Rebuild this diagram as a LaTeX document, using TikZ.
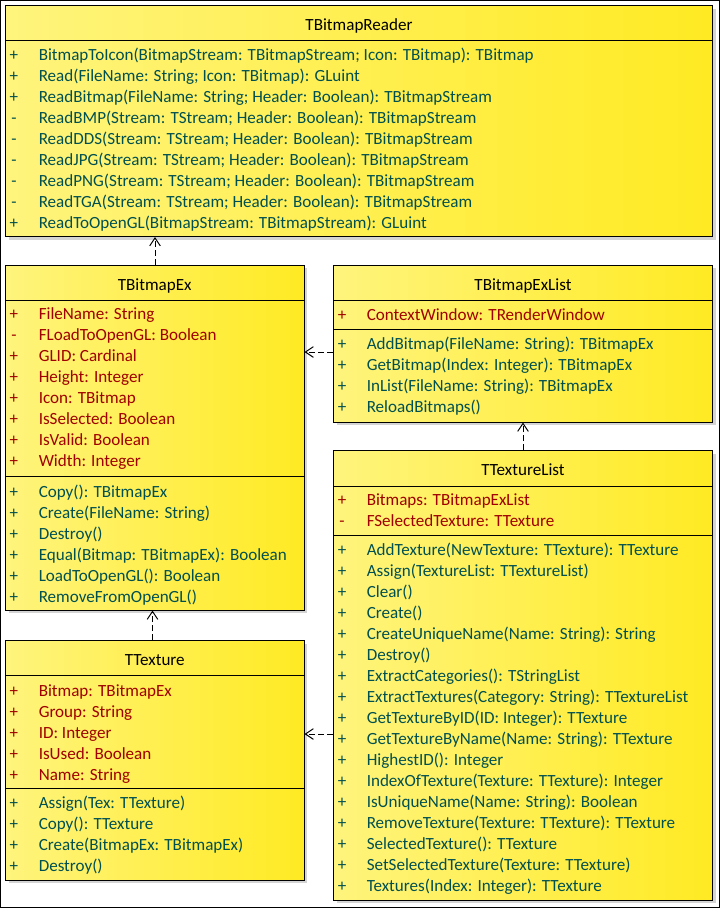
\documentclass[tikz,border=0pt]{standalone}
\usepackage{fontspec}
\setmainfont{Carlito}
\usetikzlibrary{fit,arrows.meta}
\definecolor{attrc}{RGB}{160,0,0}
\definecolor{methc}{RGB}{0,80,80}
\definecolor{yl}{RGB}{255,244,125}
\definecolor{yr}{RGB}{255,234,35}
\definecolor{shd}{RGB}{212,212,212}
\tikzset{
  umlbox/.style={draw=black, line width=0.75pt, left color=yl, right color=yr, inner sep=0pt},
  rowtxt/.style={anchor=mid west, inner sep=0pt, font=\fontsize{12.8pt}{15pt}\selectfont},
  sgn/.style={anchor=mid, inner sep=0pt, font=\fontsize{12.8pt}{15pt}\selectfont},
  ttl/.style={anchor=mid, inner sep=0pt, font=\fontsize{12.8pt}{15pt}\selectfont, text=black},
  attr/.style={text=attrc},
  meth/.style={text=methc},
  sepline/.style={line width=0.75pt},
  dep/.style={line width=0.75pt, dash pattern=on 4.5pt off 2.25pt, -{Straight Barb[length=6pt,width=8pt]}}
}
\newcommand\umlrows[5]{%
  \foreach \sg/\tx [count=\i] in {#5} {
    \node[sgn,#4] (#1s\i) at ({#2+8.5},{#3+3.5+21*(\i-1)}) {\sg};
    \node[rowtxt,#4] (#1t\i) at ({#2+33},{#3+3.5+21*(\i-1)}) {\tx};
  }}
\newcommand\umlframe[5]{% name, left, top, right, bottom
  \fill[shd] ({#2+3},{#3+3}) rectangle ({#4+3},{#5+3});
  \coordinate (#1-nw) at (#2,#3);
  \coordinate (#1-se) at (#4,#5);
  \node[umlbox, fit=(#1-nw) (#1-se)] (#1) {};
}
\begin{document}
\begin{tikzpicture}[x=0.75pt,y=-0.75pt]
\useasboundingbox (0,0) rectangle (720,908);
\draw[line width=0.75pt] (0.5,0.5) rectangle (719.5,907.5);

% TBitmapReader
\umlframe{reader}{5.5}{5.5}{712.5}{236.5}
\node[ttl] (reader-title) at (359,27) {TBitmapReader};
\coordinate (reader-c1) at (0,40.5);
\draw[sepline] (reader.west |- reader-c1) -- (reader.east |- reader-c1);
\umlrows{reader-m}{5.5}{54}{meth}{
  +/{BitmapToIcon(BitmapStream: TBitmapStream; Icon: TBitmap): TBitmap},
  +/{Read(FileName: String; Icon: TBitmap): GLuint},
  +/{ReadBitmap(FileName: String; Header: Boolean): TBitmapStream},
  -/{ReadBMP(Stream: TStream; Header: Boolean): TBitmapStream},
  -/{ReadDDS(Stream: TStream; Header: Boolean): TBitmapStream},
  -/{ReadJPG(Stream: TStream; Header: Boolean): TBitmapStream},
  -/{ReadPNG(Stream: TStream; Header: Boolean): TBitmapStream},
  -/{ReadTGA(Stream: TStream; Header: Boolean): TBitmapStream},
  +/{ReadToOpenGL(BitmapStream: TBitmapStream): GLuint}}

% TBitmapEx
\umlframe{bex}{5.5}{265}{304}{610}
\node[ttl] (bex-title) at (154.75,287) {TBitmapEx};
\coordinate (bex-c1) at (0,300.5);
\coordinate (bex-c2) at (0,476);
\draw[sepline] (bex.west |- bex-c1) -- (bex.east |- bex-c1);
\draw[sepline] (bex.west |- bex-c2) -- (bex.east |- bex-c2);
\umlrows{bex-a}{5.5}{313}{attr}{
  +/{FileName: String},
  -/{FLoadToOpenGL: Boolean},
  +/{GLID: Cardinal},
  +/{Height: Integer},
  +/{Icon: TBitmap},
  +/{IsSelected: Boolean},
  +/{IsValid: Boolean},
  +/{Width: Integer}}
\umlrows{bex-m}{5.5}{491}{meth}{
  +/{Copy(): TBitmapEx},
  +/{Create(FileName: String)},
  +/{Destroy()},
  +/{Equal(Bitmap: TBitmapEx): Boolean},
  +/{LoadToOpenGL(): Boolean},
  +/{RemoveFromOpenGL()}}

% TBitmapExList
\umlframe{bexl}{333.5}{265}{712.5}{422}
\node[ttl] (bexl-title) at (523,287) {TBitmapExList};
\coordinate (bexl-c1) at (0,300.5);
\coordinate (bexl-c2) at (0,329.5);
\draw[sepline] (bexl.west |- bexl-c1) -- (bexl.east |- bexl-c1);
\draw[sepline] (bexl.west |- bexl-c2) -- (bexl.east |- bexl-c2);
\umlrows{bexl-a}{333.5}{314}{attr}{
  +/{ContextWindow: TRenderWindow}}
\umlrows{bexl-m}{333.5}{343}{meth}{
  +/{AddBitmap(FileName: String): TBitmapEx},
  +/{GetBitmap(Index: Integer): TBitmapEx},
  +/{InList(FileName: String): TBitmapEx},
  +/{ReloadBitmaps()}}

% TTextureList
\umlframe{tl}{333.5}{450.5}{712.5}{900}
\node[ttl] (tl-title) at (523,472) {TTextureList};
\coordinate (tl-c1) at (0,486);
\coordinate (tl-c2) at (0,535);
\draw[sepline] (tl.west |- tl-c1) -- (tl.east |- tl-c1);
\draw[sepline] (tl.west |- tl-c2) -- (tl.east |- tl-c2);
\umlrows{tl-a}{333.5}{499}{attr}{
  +/{Bitmaps: TBitmapExList},
  -/{FSelectedTexture: TTexture}}
\umlrows{tl-m}{333.5}{549}{meth}{
  +/{AddTexture(NewTexture: TTexture): TTexture},
  +/{Assign(TextureList: TTextureList)},
  +/{Clear()},
  +/{Create()},
  +/{CreateUniqueName(Name: String): String},
  +/{Destroy()},
  +/{ExtractCategories(): TStringList},
  +/{ExtractTextures(Category: String): TTextureList},
  +/{GetTextureByID(ID: Integer): TTexture},
  +/{GetTextureByName(Name: String): TTexture},
  +/{HighestID(): Integer},
  +/{IndexOfTexture(Texture: TTexture): Integer},
  +/{IsUniqueName(Name: String): Boolean},
  +/{RemoveTexture(Texture: TTexture): TTexture},
  +/{SelectedTexture(): TTexture},
  +/{SetSelectedTexture(Texture: TTexture)},
  +/{Textures(Index: Integer): TTexture}}

% TTexture
\umlframe{tex}{5.5}{640.5}{304}{880}
\node[ttl] (tex-title) at (154.75,662) {TTexture};
\coordinate (tex-c1) at (0,675);
\coordinate (tex-c2) at (0,788);
\draw[sepline] (tex.west |- tex-c1) -- (tex.east |- tex-c1);
\draw[sepline] (tex.west |- tex-c2) -- (tex.east |- tex-c2);
\umlrows{tex-a}{5.5}{690}{attr}{
  +/{Bitmap: TBitmapEx},
  +/{Group: String},
  +/{ID: Integer},
  +/{IsUsed: Boolean},
  +/{Name: String}}
\umlrows{tex-m}{5.5}{802}{meth}{
  +/{Assign(Tex: TTexture)},
  +/{Copy(): TTexture},
  +/{Create(BitmapEx: TBitmapEx)},
  +/{Destroy()}}

% dependencies
\coordinate (dep1) at (155,0);
\coordinate (dep2) at (152.5,0);
\coordinate (dep3) at (0,352);
\coordinate (dep4) at (0,734);
\draw[dep] (bex.north -| dep1) -- (reader.south -| dep1);
\draw[dep] (tex.north -| dep2) -- (bex.south -| dep2);
\draw[dep] (bexl.west |- dep3) -- (bex.east |- dep3);
\draw[dep] (tl.north) -- (bexl.south);
\draw[dep] (tl.west |- dep4) -- (tex.east |- dep4);
\end{tikzpicture}
\end{document}
